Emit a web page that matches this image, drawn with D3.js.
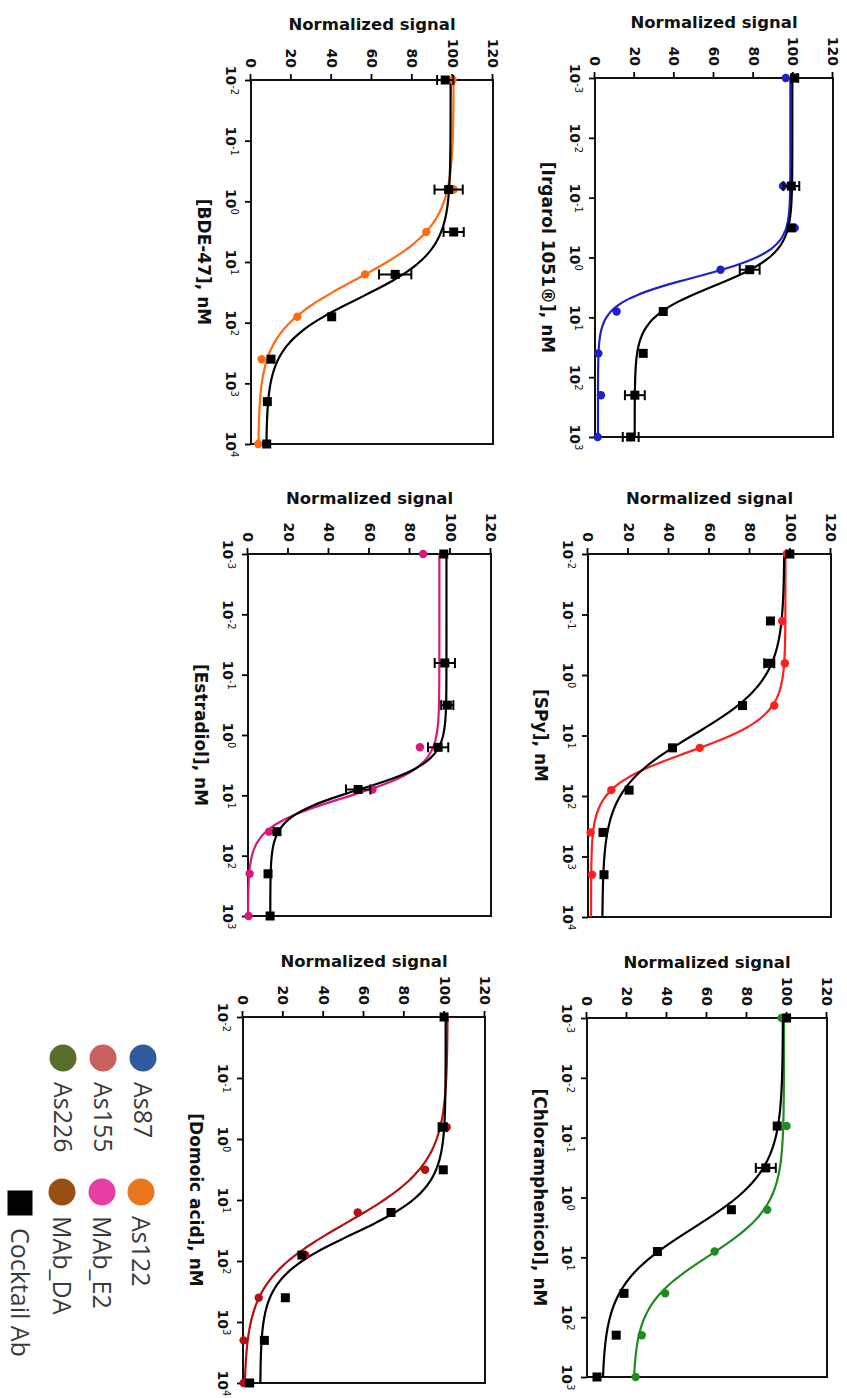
<!DOCTYPE html>
<html>
<head>
<meta charset="utf-8">
<script src="https://cdn.jsdelivr.net/npm/d3@7"></script>
<style>
  body { margin: 0; background: #fff; }
  svg { display: block; }
</style>
</head>
<body>
<svg id="chart" width="847" height="1398"></svg>
<script>
// ---- data (nM / normalized signal %) ----
var irgarolConc = [0.001, 0.064, 0.32, 1.6, 8, 40, 200, 1000];
var irgarolAs87 = [96.2, 94.8, 100.7, 63.3, 10.9, 1.7, 3.0, 1.3];
var irgarolCocktail = [100.7, 99, 99, 78, 34.4, 24.3, 20.1, 18];
var irgarolCocktailErr = [1.5, 4, 0, 5, 0, 0, 5, 4];

var spyConc = [0.01, 0.128, 0.64, 3.2, 16, 80, 400, 2000];
var spyAs155 = [98.1, 95.9, 97.2, 92, 55.2, 11.5, 1.3, 2.0];
var spyCocktail = [99.7, 90.1, 89.5, 76.3, 41.7, 20.3, 7.4, 7.9];
var spyCocktailErr = [0, 0, 2.5, 0, 0, 0, 0, 0];

var chlorConc = [0.001, 0.064, 0.32, 1.6, 8, 40, 200, 1000];
var chlorAs226 = [97.3, 99.8, null, 90.1, 63.8, 39.1, 27.4, 24.3];
var chlorCocktail = [99.8, 95.1, 89.4, 72.2, 35.2, 18.5, 14.6, 5.0];
var chlorCocktailErr = [0, 0, 5, 0, 0, 0, 0, 0];

var bdeConc = [0.01, 0.64, 3.2, 16, 80, 400, 2000, 10000];
var bdeAs122 = [100, 100.5, 86.9, 56.6, 23, 5.3, null, 3.6];
var bdeCocktail = [96.3, 98, 100.5, 71.5, 40, 9.9, 8.1, 7.8];
var bdeCocktailErr = [4, 7, 5, 8, 0, 0, 0, 0];

var e2Conc = [0.001, 0.064, 0.32, 1.6, 8, 40, 200, 1000];
var e2MAbE2 = [86.5, null, null, 84.9, 61.5, 10.4, 0.8, 0.3];
var e2Cocktail = [96.7, 97.2, 98.4, 93.9, 54.4, 14.3, 9.9, 10.9];
var e2CocktailErr = [0, 5, 3, 5, 6, 0, 0, 0];

var daConc = [0.01, 0.64, 3.2, 16, 80, 400, 2000, 10000];
var daMAbDA = [null, 101, 90.3, 56.9, 30.9, 7.8, 0.3, 0.3];
var daCocktail = [99.7, 99, 99.3, 73.4, 29.2, 21, 10.6, 3.3];
var daCocktailErr = [0, 2, 0, 0, 0, 0, 0, 0];

// 4PL fits: [top, bottom, IC50, hill]
var irgarolFitAb = [98.5, 1.5, 2.15, 2.0];
var irgarolFitCocktail = [99.5, 20, 3.0, 1.6];
var spyFitAb = [97.5, 1.5, 18.8, 1.49];
var spyFitCocktail = [97, 7, 9.8, 0.95];
var chlorFitAb = [98.5, 23, 9.5, 1.05];
var chlorFitCocktail = [98, 7.5, 3.3, 0.9];
var bdeFitAb = [100.5, 3.5, 19.4, 1.0];
var bdeFitCocktail = [99, 7.5, 40, 1.15];
var e2FitAb = [94.5, 0, 11, 1.75];
var e2FitCocktail = [98, 11, 8.1, 1.9];
var daFitAb = [101.5, 0.5, 24, 0.9];
var daFitCocktail = [100.5, 8.5, 36, 1.2];

var signalTicks = [0, 20, 40, 60, 80, 100, 120];
var panelTitles = ["[Irgarol 1051®], nM", "[SPy], nM", "[Chloramphenicol], nM",
                   "[BDE-47], nM", "[Estradiol], nM", "[Domoic acid], nM"];
var panelDecades = [[-3, 3], [-2, 4], [-3, 3], [-2, 4], [-3, 3], [-2, 4]];

var legendNames = ["As87", "As155", "As226", "As122", "MAb_E2", "MAb_DA", "Cocktail Ab"];
var legendColors = ["#2f5b9c", "#c95f5f", "#5a6e2c", "#e8771e", "#e63ea4", "#9a4f12", "#000"];

// ---- layout, drawn in the figure's own (landscape) frame, then turned 90deg ----
var layout = [
  {x0: 78,   x1: 437,  yt: 14,  yb: 252, color: "#1d22c4"},
  {x0: 554,  x1: 917,  yt: 16,  yb: 259, color: "#ff1f1f"},
  {x0: 1018, x1: 1377, yt: 20,  yb: 260, color: "#1f8c1f"},
  {x0: 80,   x1: 444,  yt: 354, yb: 596, color: "#ff6a13"},
  {x0: 554,  x1: 916,  yt: 356, yb: 599, color: "#d8197c"},
  {x0: 1017, x1: 1383, yt: 362, yb: 604, color: "#b01212"}
];

var panels = [
  {conc: irgarolConc, ab: irgarolAs87, ck: irgarolCocktail, err: irgarolCocktailErr, fa: irgarolFitAb, fc: irgarolFitCocktail},
  {conc: spyConc, ab: spyAs155, ck: spyCocktail, err: spyCocktailErr, fa: spyFitAb, fc: spyFitCocktail},
  {conc: chlorConc, ab: chlorAs226, ck: chlorCocktail, err: chlorCocktailErr, fa: chlorFitAb, fc: chlorFitCocktail},
  {conc: bdeConc, ab: bdeAs122, ck: bdeCocktail, err: bdeCocktailErr, fa: bdeFitAb, fc: bdeFitCocktail},
  {conc: e2Conc, ab: e2MAbE2, ck: e2Cocktail, err: e2CocktailErr, fa: e2FitAb, fc: e2FitCocktail},
  {conc: daConc, ab: daMAbDA, ck: daCocktail, err: daCocktailErr, fa: daFitAb, fc: daFitCocktail}
];

function logistic(p, c) {
  return p[1] + (p[0] - p[1]) / (1 + Math.pow(c / p[2], p[3]));
}

var svg = d3.select("#chart");
svg.append("rect").attr("width", 847).attr("height", 1398).attr("fill", "#fff");

var fig = svg.append("g")
    .attr("transform", "translate(847,0) rotate(90)");

var boldFont = "'DejaVu Sans', sans-serif";

panels.forEach(function(p, i) {
  var L = layout[i];
  var lo = Math.pow(10, panelDecades[i][0]), hi = Math.pow(10, panelDecades[i][1]);
  var x = d3.scaleLog().domain([lo, hi]).range([L.x0, L.x1]);
  var y = d3.scaleLinear().domain([0, 120]).range([L.yb, L.yt]);
  var decades = d3.range(panelDecades[i][0], panelDecades[i][1] + 1);

  var g = fig.append("g");

  // x axis (concentration)
  var xa = g.append("g")
      .attr("transform", "translate(0," + L.yb + ")")
      .call(d3.axisBottom(x)
        .tickValues(decades.map(function(e) { return Math.pow(10, e); }))
        .tickSize(6).tickSizeOuter(0).tickFormat(""));
  xa.select(".domain").remove();
  xa.selectAll(".tick line").attr("stroke-width", 1.8);
  xa.selectAll(".tick").data(decades).append("text")
      .attr("y", 25)
      .attr("fill", "#111")
      .attr("text-anchor", "middle")
      .attr("font-family", boldFont)
      .attr("font-weight", "bold")
      .attr("font-size", 14)
      .each(function(e) {
        var t = d3.select(this);
        t.append("tspan").text("10");
        t.append("tspan").attr("dy", "-0.5em").attr("font-size", 10)
            .attr("font-weight", "normal").text(e < 0 ? "-" + (-e) : e);
      });

  // y axis (normalized signal)
  var ya = g.append("g")
      .attr("transform", "translate(" + L.x0 + ",0)")
      .call(d3.axisLeft(y).tickValues(signalTicks).tickSize(6).tickSizeOuter(0).tickPadding(6));
  ya.select(".domain").remove();
  ya.selectAll(".tick line").attr("stroke-width", 1.8);
  ya.selectAll(".tick text")
      .attr("fill", "#111")
      .attr("font-family", boldFont)
      .attr("font-weight", "bold")
      .attr("font-size", 14);

  // frame
  g.append("rect")
      .attr("x", L.x0).attr("y", L.yt)
      .attr("width", L.x1 - L.x0).attr("height", L.yb - L.yt)
      .attr("fill", "none").attr("stroke", "#111").attr("stroke-width", 2);

  // titles
  g.append("text")
      .attr("transform", "translate(" + (L.x0 - 50.5) + "," + ((L.yt + L.yb) / 2) + ") rotate(-90)")
      .attr("text-anchor", "middle")
      .attr("font-family", boldFont).attr("font-weight", "bold").attr("font-size", 16.5)
      .attr("fill", "#111")
      .text("Normalized signal");
  g.append("text")
      .attr("x", (L.x0 + L.x1) / 2).attr("y", L.yb + 53)
      .attr("text-anchor", "middle")
      .attr("font-family", boldFont).attr("font-weight", "bold").attr("font-size", 17)
      .attr("fill", "#111")
      .text(panelTitles[i]);

  // fitted curves
  var samples = d3.range(0, 241).map(function(k) {
    return lo * Math.pow(hi / lo, k / 240);
  });
  var line = d3.line()
      .x(function(c) { return x(c); });
  g.append("path")
      .attr("d", line.y(function(c) { return y(logistic(p.fa, c)); })(samples))
      .attr("fill", "none").attr("stroke", L.color).attr("stroke-width", 2.2);
  g.append("path")
      .attr("d", line.y(function(c) { return y(logistic(p.fc, c)); })(samples))
      .attr("fill", "none").attr("stroke", "#000").attr("stroke-width", 2.2);

  // antibody points
  var abPts = p.conc.map(function(c, k) { return {c: c, v: p.ab[k]}; })
      .filter(function(d) { return d.v != null; });
  g.selectAll(".ab").data(abPts).join("circle")
      .attr("cx", function(d) { return x(d.c); })
      .attr("cy", function(d) { return y(d.v); })
      .attr("r", 4.2)
      .attr("fill", L.color);

  // cocktail error bars + squares
  var ckPts = p.conc.map(function(c, k) { return {c: c, v: p.ck[k], e: p.err[k]}; });
  var eb = g.selectAll(".eb").data(ckPts.filter(function(d) { return d.e > 0; })).join("g")
      .attr("stroke", "#000").attr("stroke-width", 2);
  eb.append("line")
      .attr("x1", function(d) { return x(d.c); }).attr("x2", function(d) { return x(d.c); })
      .attr("y1", function(d) { return y(d.v - d.e); }).attr("y2", function(d) { return y(d.v + d.e); });
  [-1, 1].forEach(function(s) {
    eb.append("line")
        .attr("x1", function(d) { return x(d.c) - 5; }).attr("x2", function(d) { return x(d.c) + 5; })
        .attr("y1", function(d) { return y(d.v + s * d.e); }).attr("y2", function(d) { return y(d.v + s * d.e); });
  });
  g.selectAll(".ck").data(ckPts).join("rect")
      .attr("x", function(d) { return x(d.c) - 4.5; })
      .attr("y", function(d) { return y(d.v) - 4.5; })
      .attr("width", 9).attr("height", 9)
      .attr("fill", "#000");
});

// ---- legend ----
var legendPos = [
  {X: 1058, Y: 704}, {X: 1058, Y: 744}, {X: 1058, Y: 784},
  {X: 1192, Y: 706}, {X: 1192, Y: 745}, {X: 1192, Y: 785},
  {X: 1203, Y: 827}
];
var leg = fig.append("g").selectAll("g").data(legendNames).join("g")
    .attr("transform", function(d, k) { return "translate(" + legendPos[k].X + "," + legendPos[k].Y + ")"; });
leg.each(function(d, k) {
  var s = d3.select(this);
  if (d === "Cocktail Ab") {
    s.append("rect").attr("x", -12.5).attr("y", -12.5).attr("width", 25).attr("height", 25)
        .attr("fill", legendColors[k]);
  } else {
    s.append("circle").attr("r", 13.5).attr("fill", legendColors[k]);
  }
});
leg.append("text")
    .attr("x", function(d) { return d === "Cocktail Ab" ? 25 : 24; })
    .attr("dy", "0.36em")
    .attr("font-family", "'Open Sans', sans-serif")
    .attr("font-size", 25)
    .attr("fill", "#3a3a3a")
    .text(function(d) { return d; });
</script>
</body>
</html>
